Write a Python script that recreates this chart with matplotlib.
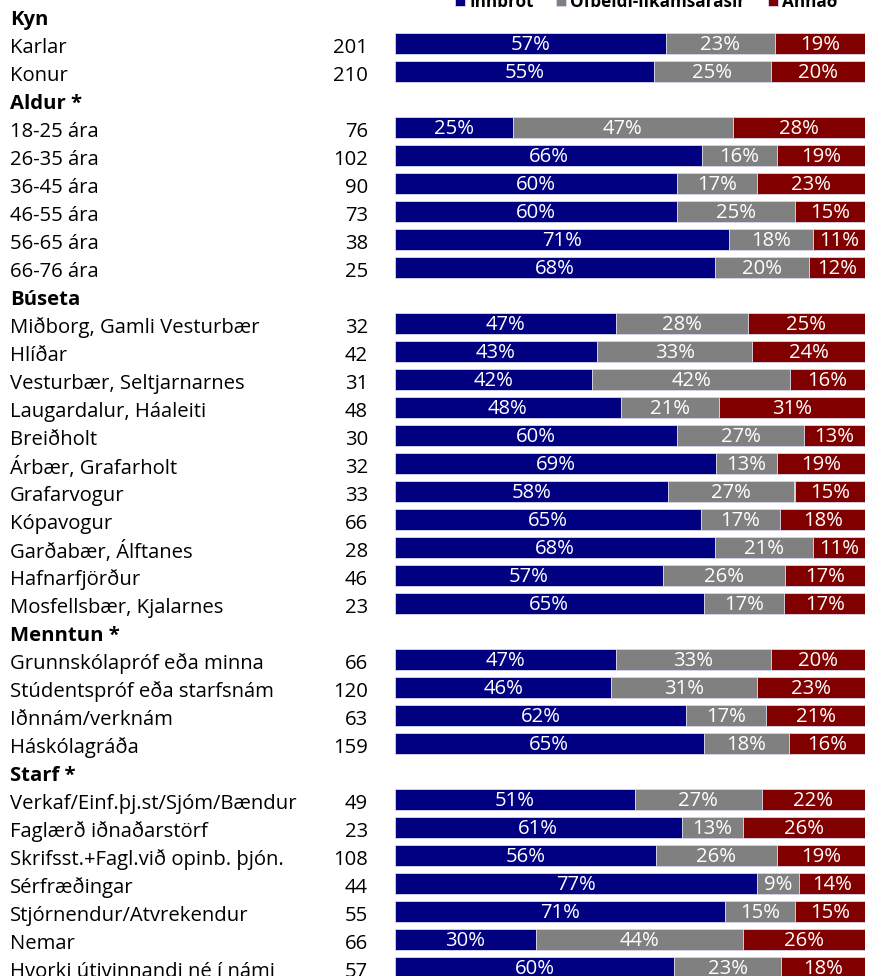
import numpy as np
import matplotlib
matplotlib.use("Agg")
import matplotlib.pyplot as plt
from matplotlib.transforms import blended_transform_factory

# --- data: None in counts marks a group header row ---
labels = ["Kyn", "Karlar", "Konur",
          "Aldur *", "18-25 ára", "26-35 ára", "36-45 ára", "46-55 ára", "56-65 ára", "66-76 ára",
          "Búseta", "Miðborg, Gamli Vesturbær", "Hlíðar", "Vesturbær, Seltjarnarnes",
          "Laugardalur, Háaleiti", "Breiðholt", "Árbær, Grafarholt", "Grafarvogur", "Kópavogur",
          "Garðabær, Álftanes", "Hafnarfjörður", "Mosfellsbær, Kjalarnes",
          "Menntun *", "Grunnskólapróf eða minna", "Stúdentspróf eða starfsnám",
          "Iðnnám/verknám", "Háskólagráða",
          "Starf *", "Verkaf/Einf.þj.st/Sjóm/Bændur", "Faglærð iðnaðarstörf",
          "Skrifsst.+Fagl.við opinb. þjón.", "Sérfræðingar", "Stjórnendur/Atvrekendur",
          "Nemar", "Hvorki útivinnandi né í námi"]
counts = [None, 201, 210,
          None, 76, 102, 90, 73, 38, 25,
          None, 32, 42, 31, 48, 30, 32, 33, 66, 28, 46, 23,
          None, 66, 120, 63, 159,
          None, 49, 23, 108, 44, 55, 66, 57]
innbrot = [None, 57, 55,
           None, 25, 66, 60, 60, 71, 68,
           None, 47, 43, 42, 48, 60, 69, 58, 65, 68, 57, 65,
           None, 47, 46, 62, 65,
           None, 51, 61, 56, 77, 71, 30, 60]
ofbeldi = [None, 23, 25,
           None, 47, 16, 17, 25, 18, 20,
           None, 28, 33, 42, 21, 27, 13, 27, 17, 21, 26, 17,
           None, 33, 31, 17, 18,
           None, 27, 13, 26, 9, 15, 44, 23]
annad = [None, 19, 20,
         None, 28, 19, 23, 15, 11, 12,
         None, 25, 24, 16, 31, 13, 19, 15, 18, 11, 17, 17,
         None, 20, 23, 21, 16,
         None, 22, 26, 19, 14, 15, 26, 18]
series_names = ["Innbrot", "Ofbeldi-líkamsárásir", "Annað"]
colors = ["#000080", "#808080", "#800000"]

plt.rcParams["font.family"] = ["Open Sans", "DejaVu Sans"]
FS = 14.6

W, H = 874, 976
fig = plt.figure(figsize=(W / 100, H / 100), dpi=100)

# bar axes spans full height; row i sits at pixel 18 + 28*i
ax = fig.add_axes([395 / W, 0, 470 / W, 1])
ax.set_xlim(0, 1)
ax.set_ylim((H - 18) / 28, -18 / 28)
ax.axis("off")

rows = [i for i, c in enumerate(counts) if c is not None]
vals = np.array([[innbrot[i], ofbeldi[i], annad[i]] for i in rows], dtype=float)
shares = vals / vals.sum(axis=1, keepdims=True)
ypos = np.array(rows) - 0.08

left = np.zeros(len(rows))
handles = []
for k in range(3):
    b = ax.barh(ypos, shares[:, k], left=left, height=0.74, color=colors[k],
                edgecolor="#d8d8ec", linewidth=0.6, label=series_names[k])
    handles.append(b)
    for j, r in enumerate(rows):
        ax.text(left[j] + shares[j, k] / 2, ypos[j] + 0.06, f"{int(vals[j, k])}%",
                ha="center", va="center", color="white", fontsize=FS)
    left += shares[:, k]

tr = blended_transform_factory(fig.transFigure, ax.transData)
for i, lab in enumerate(labels):
    yy = i + 0.06
    if counts[i] is None:
        t = fig.text(10 / W, 0, lab, transform=tr, fontsize=FS, fontweight="bold",
                     ha="left", va="center")
        t.set_y(yy)
    else:
        t = fig.text(10 / W, 0, lab, transform=tr, fontsize=FS, ha="left", va="center")
        t.set_y(yy)
        t = fig.text(368 / W, 0, str(counts[i]), transform=tr, fontsize=FS,
                     ha="right", va="center")
        t.set_y(yy)

# legend sits at the top edge, partly cut off as in the source crop
fig.legend(handles, series_names, loc="center", bbox_to_anchor=(646 / W, 1 - 2 / H),
           ncol=3, frameon=False, prop={"weight": "bold", "size": 12.3},
           handlelength=0.6, handleheight=0.6, handletextpad=0.25, columnspacing=1.3)

fig.savefig("out.png", dpi=100)
